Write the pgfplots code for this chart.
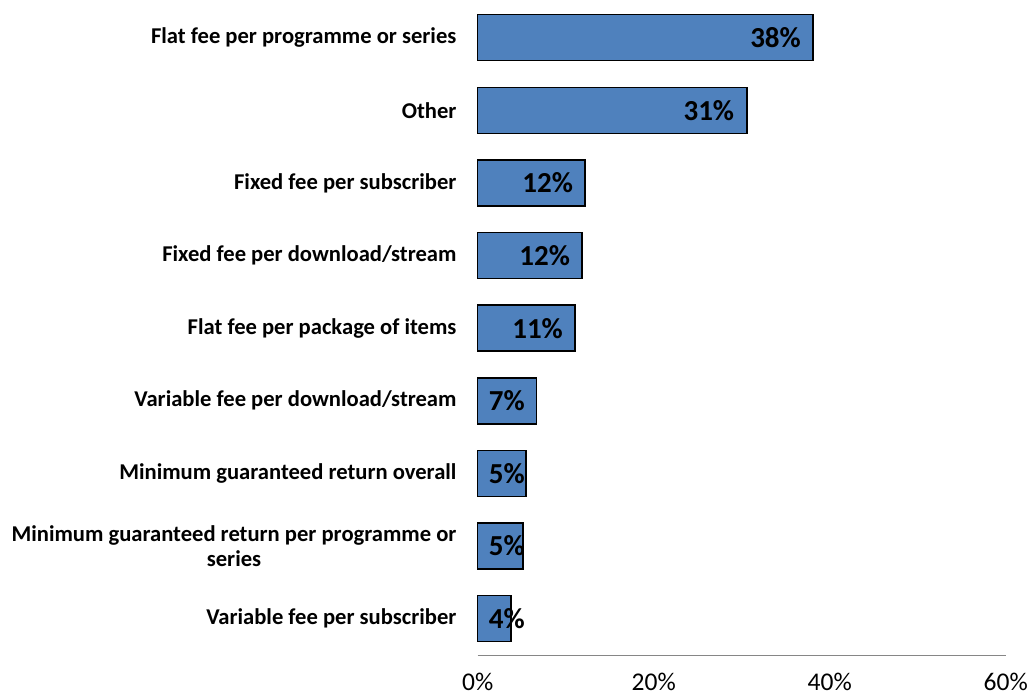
\documentclass[border=0pt]{standalone}
\usepackage{fontspec}
\setmainfont{Carlito}
\usepackage{pgfplots}
\pgfplotsset{compat=1.18}
\definecolor{barblue}{HTML}{4F81BD}
\definecolor{axgray}{HTML}{868686}
\begin{document}
\begin{tikzpicture}
\path[use as bounding box] (-477.7pt,-43pt) rectangle (552.3pt,655pt);
\begin{axis}[
    anchor=south west,
    at={(0pt,0pt)},
    scale only axis,
    width=528pt, height=653.6pt,
    xmin=0, xmax=60,
    ymin=-0.5, ymax=8.5,
    y dir=reverse,
    axis x line*=bottom,
    axis y line*=left,
    x axis line style={draw=axgray, line width=1pt, -},
    y axis line style={draw=none},
    major tick length=0pt,
    xtick={0,20,40,60},
    xticklabel={\pgfmathprintnumber{\tick}\%},
    /pgf/number format/assume math mode=true,
    x tick label style={font=\fontsize{25.5}{30}\selectfont, yshift=-15pt},
    ytick={0,...,8},
    yticklabels={Flat fee per programme or series, Other, Fixed fee per subscriber, Fixed fee per download/stream, Flat fee per package of items, Variable fee per download/stream, Minimum guaranteed return overall, {Minimum guaranteed return per programme or\\series}, Variable fee per subscriber},
    y tick label style={font=\bfseries\fontsize{22.6}{25.5}\selectfont, align=center, anchor=east, inner sep=0pt, xshift=-21pt},
    clip=false,
]
\addplot[xbar, bar width=46pt, fill=barblue, draw=black, line width=1.5pt]
    coordinates {(38.1,0) (30.6,1) (12.2,2) (11.85,3) (11.05,4) (6.7,5) (5.5,6) (5.15,7) (3.8,8)};
\addplot[draw=none, mark=none, nodes near coords, point meta=explicit symbolic,
    every node near coord/.style={anchor=east, inner sep=0pt, font=\bfseries\fontsize{29}{30}\selectfont, text=black}]
    coordinates {(36.74,0)[38\%] (29.16,1)[31\%] (10.84,2)[12\%] (10.5,3)[12\%] (9.7,4)[11\%] (5.37,5)[7\%] (5.37,6)[5\%] (5.37,7)[5\%] (5.37,8)[4\%]};
\end{axis}
\end{tikzpicture}
\end{document}
